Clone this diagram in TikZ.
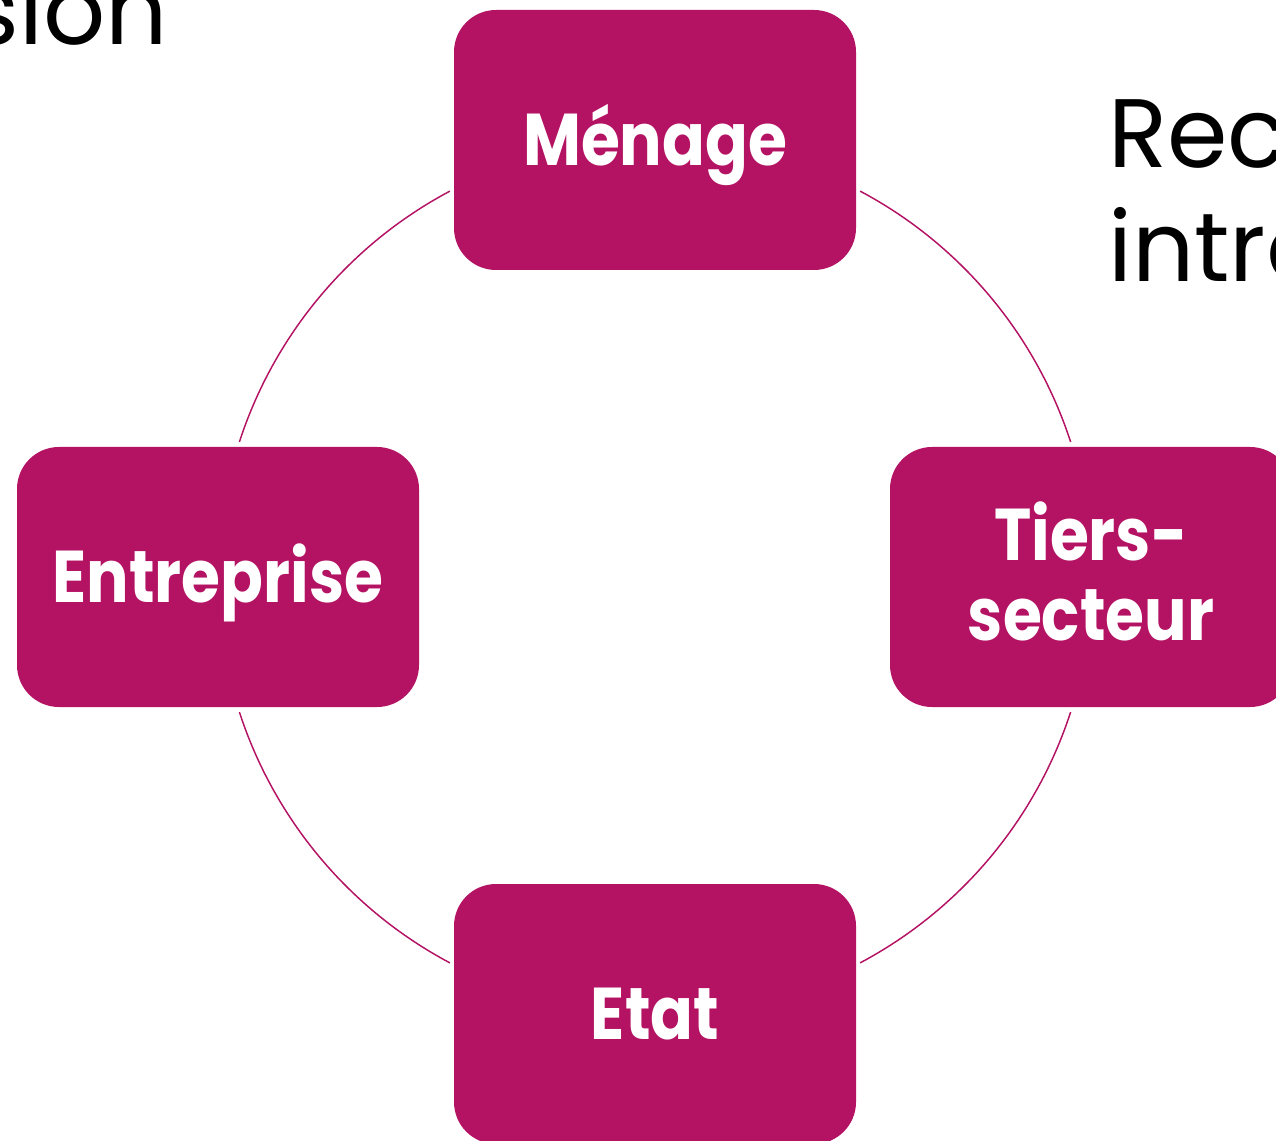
\documentclass[tikz,border=0pt]{standalone}
\usepackage{fontspec}
\setmainfont{Poppins}
\newfontfamily\acteurfont[FakeStretch=0.86]{Poppins}
\usepackage{xcolor}
\usepackage{tikz}
\definecolor{acteurpink}{HTML}{B41263}
\tikzset{acteur/.style={draw=none, fill=acteurpink, rounded corners=31.5pt,
    minimum width=301.5pt, minimum height=195pt, inner sep=0pt,
    text=white, font=\acteurfont\fontsize{55}{60}\selectfont\bfseries,
    text height=38pt, text depth=0pt}}
\tikzset{lien/.style={draw=acteurpink, line width=1.1pt}}
\tikzset{titre/.style={inner sep=0pt, font=\fontsize{73}{85}\selectfont}}

\begin{document}
\begin{tikzpicture}[x=0.75pt, y=0.75pt]
  \useasboundingbox (0, 0) rectangle (1276, 1140);
  \clip (0, 0) rectangle (1276, 1140);

  % slide text cut by the frame
  \node[titre, anchor=base east] at (168, 1095) (sion) {sion};
  \node[titre, anchor=base west] at (1108, 972) (rec) {Rec};
  \node[titre, anchor=base west] at (1108, 858) (intro) {intro};

  % the four actors
  \node[acteur] at (655, 1000) (menage) {Ménage};
  \node[acteur] at (218, 563) (entreprise) {Entreprise};
  \node[acteur, align=center, text height=94.5pt, text depth=0pt]
    at (1091, 563) (tiers) {Tiers-\\secteur};
  \node[acteur] at (655, 126) (etat) {Etat};

  % circle between them
  \coordinate (hub) at (655, 563);
  \draw[lien] (hub) ++(118:327.75pt) arc[start angle=118, end angle=162, radius=327.75pt];
  \draw[lien] (hub) ++(18:327.75pt) arc[start angle=18, end angle=62, radius=327.75pt];
  \draw[lien] (hub) ++(198:327.75pt) arc[start angle=198, end angle=242, radius=327.75pt];
  \draw[lien] (hub) ++(-62:327.75pt) arc[start angle=-62, end angle=-18, radius=327.75pt];
\end{tikzpicture}
\end{document}
